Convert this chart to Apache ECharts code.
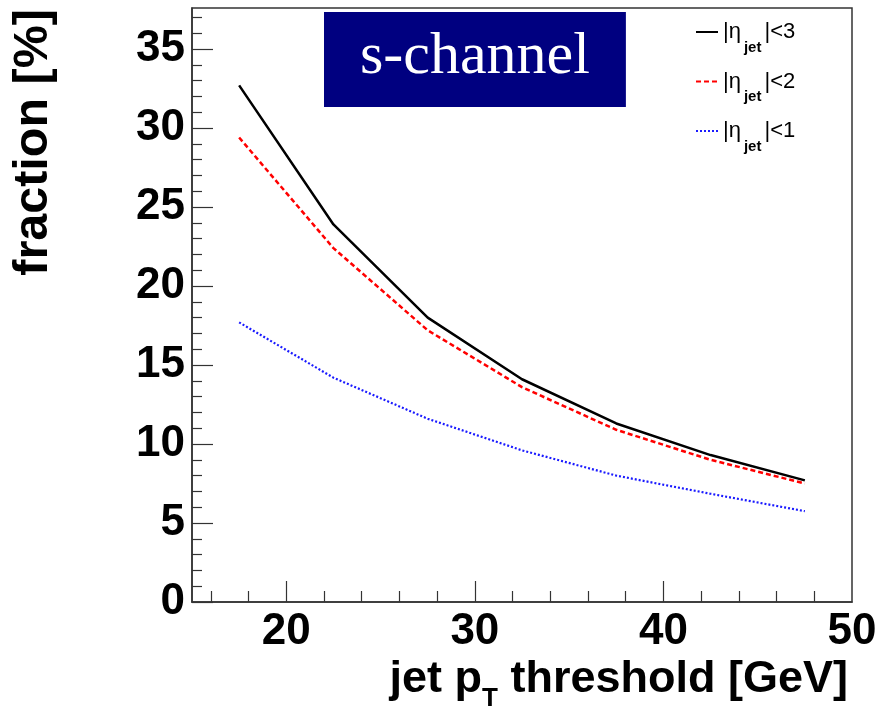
<!DOCTYPE html>
<html><head><meta charset="utf-8">
<script src="https://cdn.jsdelivr.net/npm/echarts@6/dist/echarts.min.js"></script>
<style>html,body{margin:0;padding:0;background:#fff}#c{width:878px;height:706px}</style>
</head><body><div id="c"></div>
<script>
const ptThreshold = [17.5, 22.5, 27.5, 32.5, 37.5, 42.5, 47.5];
const fracEta3 = [32.7, 23.9, 18.0, 14.1, 11.3, 9.3, 7.7];
const fracEta2 = [29.4, 22.4, 17.2, 13.6, 10.9, 9.0, 7.5];
const fracEta1 = [17.7, 14.2, 11.6, 9.6, 8.0, 6.85, 5.75];
const seriesNames = ['|η_jet|<3', '|η_jet|<2', '|η_jet|<1'];
const xLabels = [20, 30, 40, 50];
const xMajorTicks = [20, 30, 40];
const xMinorTicks = [16, 18, 22, 24, 26, 28, 32, 34, 36, 38, 42, 44, 46, 48];
const yLabels = [0, 5, 10, 15, 20, 25, 30, 35];
const yMinorTicks = [1, 2, 3, 4, 6, 7, 8, 9, 11, 12, 13, 14, 16, 17, 18, 19, 21, 22, 23, 24, 26, 27, 28, 29, 31, 32, 33, 34, 36, 37];
const titleText = 's-channel';
const xTitle = 'jet p{sub|T} threshold [GeV]';
const yTitle = 'fraction [%]';

const FONT = 'Liberation Sans, Arial, Helvetica, sans-serif';
const chart = echarts.init(document.getElementById('c'), null, {renderer: 'canvas'});

function zip(xs, ys) { return xs.map((x, i) => [x, ys[i]]); }

const axisColor = '#333';
const option = {
  animation: false,
  backgroundColor: '#fff',
  title: {
    text: titleText,
    left: 324, top: 12,
    backgroundColor: '#000080',
    padding: [15, 36, 20, 36],
    textStyle: {color: '#fff', fontFamily: 'Liberation Serif, Times New Roman, serif', fontSize: 60, fontWeight: 'normal', lineHeight: 60}
  },
  grid: {left: 192, top: 8, right: 26, bottom: 104, show: true, borderColor: axisColor, borderWidth: 1.5, containLabel: false, outerBoundsMode: 'none'},
  legend: {
    orient: 'vertical', left: 695, top: 12, padding: 0,
    itemWidth: 22, itemHeight: 10, itemGap: 6.5, selectedMode: false,
    itemStyle: {opacity: 0, borderWidth: 0},
    data: seriesNames,
    formatter: name => name.replace('_jet', '{s|jet}'),
    textStyle: {fontFamily: FONT, fontSize: 22, color: '#000', lineHeight: 40,
      rich: {s: {fontFamily: FONT, fontSize: 15, fontWeight: 'bold', color: '#000', lineHeight: 12, verticalAlign: 'top', padding: [28, 3, 0, 3]}}}
  },
  xAxis: [{
    type: 'value', min: 15, max: 50, position: 'bottom',
    axisLine: {show: true, lineStyle: {color: axisColor, width: 1.5}},
    axisTick: {show: true, inside: true, length: 21, customValues: xMajorTicks, lineStyle: {color: axisColor, width: 1.2}},
    axisLabel: {customValues: xLabels, margin: 8, fontSize: 44, fontWeight: 'bold', fontFamily: FONT, color: '#000'},
    splitLine: {show: false},
    name: xTitle, nameLocation: 'end', nameGap: -4, nameMoveOverlap: false,
    nameTextStyle: {fontSize: 45, fontWeight: 'bold', fontFamily: FONT, color: '#000', align: 'right', verticalAlign: 'top', lineHeight: 56, padding: [50, 0, 0, 0],
      rich: {sub: {fontSize: 26, fontWeight: 'bold', fontFamily: FONT, color: '#000', lineHeight: 20, verticalAlign: 'top', padding: [34, 0, 0, 0]}}}
  }, {
    type: 'value', min: 15, max: 50, position: 'bottom',
    axisLine: {show: false},
    axisTick: {show: true, inside: true, length: 11, customValues: xMinorTicks, lineStyle: {color: axisColor, width: 1.2}},
    axisLabel: {show: false}, splitLine: {show: false}
  }],
  yAxis: [{
    type: 'value', min: 0, max: 37.6, position: 'left',
    axisLine: {show: true, lineStyle: {color: axisColor, width: 1.5}},
    axisTick: {show: true, inside: true, length: 21, customValues: yLabels, lineStyle: {color: axisColor, width: 1.2}},
    axisLabel: {customValues: yLabels, margin: 7, fontSize: 44, fontWeight: 'bold', fontFamily: FONT, color: '#000'},
    splitLine: {show: false},
    name: yTitle, nameLocation: 'end', nameRotate: 90, nameGap: -1, nameMoveOverlap: false,
    nameTextStyle: {fontSize: 48.5, fontWeight: 'bold', fontFamily: FONT, color: '#000', align: 'right', verticalAlign: 'bottom', padding: [0, 0, 134, 0]}
  }, {
    type: 'value', min: 0, max: 37.6, position: 'left',
    axisLine: {show: false},
    axisTick: {show: true, inside: true, length: 10, customValues: yMinorTicks, lineStyle: {color: axisColor, width: 1.2}},
    axisLabel: {show: false}, splitLine: {show: false}
  }],
  series: [
    {name: seriesNames[0], type: 'line', data: zip(ptThreshold, fracEta3), symbol: 'none', color: '#000',
     lineStyle: {color: '#000', width: 2.5, type: 'solid'}},
    {name: seriesNames[1], type: 'line', data: zip(ptThreshold, fracEta2), symbol: 'none', color: '#ff0000',
     lineStyle: {color: '#ff0000', width: 2.5, type: [5, 3]}},
    {name: seriesNames[2], type: 'line', data: zip(ptThreshold, fracEta1), symbol: 'none', color: '#0000ff',
     lineStyle: {color: '#1a1aff', width: 2.2, type: [2, 2]}}
  ]
};
chart.setOption(option);
</script></body></html>
